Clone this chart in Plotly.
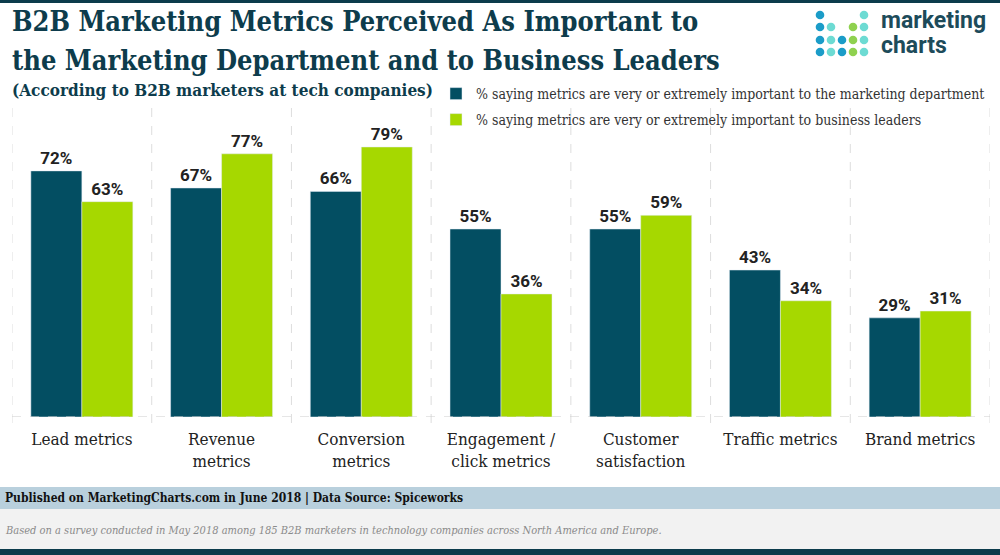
import plotly.graph_objects as go

categories = ["Lead metrics", "Revenue<br>metrics", "Conversion<br>metrics", "Engagement /<br>click metrics",
              "Customer<br>satisfaction", "Traffic metrics", "Brand metrics"]
marketing_dept = [72, 67, 66, 55, 55, 43, 29]
business_leaders = [63, 77, 79, 36, 59, 34, 31]
series_names = ["% saying metrics are very or extremely important to the marketing department",
                "% saying metrics are very or extremely important to business leaders"]

W, H = 1000, 555
L, R, T, B = 12, 10, 108, 138
PW, PH = W - L - R, H - T - B

def px(x):
    return (x - L) / PW

def py(y):
    return (H - B - y) / PH

DARK = "#034e62"
GREEN = "#a6d800"
SERIF = "DejaVu Serif Condensed, DejaVu Serif, serif"

xs = list(range(len(categories)))

fig = go.Figure()
fig.add_trace(go.Bar(x=xs, y=marketing_dept, name=series_names[0], marker_color=DARK,
                     text=[f"{v}%" for v in marketing_dept], textposition="outside",
                     textfont=dict(family="Roboto", size=17, color="#222", weight="bold"),
                     cliponaxis=False, legend="legend"))
fig.add_trace(go.Bar(x=xs, y=business_leaders, name=series_names[1], marker_color=GREEN,
                     text=[f"{v}%" for v in business_leaders], textposition="outside",
                     textfont=dict(family="Roboto", size=17, color="#222", weight="bold"),
                     cliponaxis=False, legend="legend2"))

shapes = []
for i in range(len(categories) + 1):
    shapes.append(dict(type="line", xref="x", yref="paper", x0=i - 0.5, x1=i - 0.5,
                       y0=py(423), y1=1, line=dict(color="#dddddd", width=1, dash="dash")))
shapes.append(dict(type="line", xref="paper", yref="y", x0=0, x1=1, y0=0, y1=0,
                   line=dict(color="#cccccc", width=1, dash="dash")))
shapes.append(dict(type="rect", xref="paper", yref="paper", x0=px(0), x1=px(W), y0=py(0), y1=py(3),
                   fillcolor="#0c3c4c", line_width=0, layer="below"))
shapes.append(dict(type="rect", xref="paper", yref="paper", x0=px(0), x1=px(W), y0=py(487), y1=py(509),
                   fillcolor="#b9d0dd", line_width=0, layer="below"))
shapes.append(dict(type="rect", xref="paper", yref="paper", x0=px(0), x1=px(W), y0=py(509), y1=py(549),
                   fillcolor="#f2f2f2", line_width=0, layer="below"))
shapes.append(dict(type="rect", xref="paper", yref="paper", x0=px(0), x1=px(W), y0=py(549), y1=py(H),
                   fillcolor="#0c3c4c", line_width=0, layer="below"))

cols = [820, 831, 842, 853, 864]
rows = [15, 27, 40, 52]
BLUE, LTEAL, LGREEN = "#1b9cc8", "#6ddbd3", "#8fd14f"
pattern = [
    [BLUE, None, None, None, LTEAL],
    [BLUE, LTEAL, None, LGREEN, LTEAL],
    [BLUE, LTEAL, BLUE, LGREEN, LTEAL],
    [BLUE, LTEAL, BLUE, LGREEN, LTEAL],
]
r = 4.3
for ri, row in enumerate(pattern):
    for ci, c in enumerate(row):
        if c:
            cx, cy = cols[ci], rows[ri]
            shapes.append(dict(type="circle", xref="paper", yref="paper",
                               x0=px(cx - r), x1=px(cx + r), y0=py(cy + r), y1=py(cy - r),
                               fillcolor=c, line_width=0))

annotations = [
    dict(text="B2B Marketing Metrics Perceived As Important to", x=px(10), y=py(22),
         font=dict(family=SERIF, size=27, color="#0d3c4c", weight="bold")),
    dict(text="the Marketing Department and to Business Leaders", x=px(10), y=py(60),
         font=dict(family=SERIF, size=27, color="#0d3c4c", weight="bold")),
    dict(text="(According to B2B marketers at tech companies)", x=px(10), y=py(90),
         font=dict(family=SERIF, size=17, color="#0d3c4c", weight="bold")),
    dict(text="marketing", x=px(879), y=py(20),
         font=dict(family="Roboto", size=23, color="#1d4b5a", weight="bold")),
    dict(text="charts", x=px(879), y=py(46),
         font=dict(family="Roboto", size=23, color="#1d4b5a", weight="bold")),
    dict(text="Published on MarketingCharts.com in June 2018 | Data Source: Spiceworks", x=px(3), y=py(498),
         font=dict(family=SERIF, size=12, color="#111", weight="bold")),
    dict(text="<i>Based on a survey conducted in May 2018 among 185 B2B marketers in technology companies across North America and Europe.</i>",
         x=px(3), y=py(530), font=dict(family=SERIF, size=11, color="#8a8a8a")),
]
for a in annotations:
    a.update(xref="paper", yref="paper", xanchor="left", yanchor="middle", showarrow=False)

fig.update_layout(
    width=W, height=H,
    margin=dict(l=L, r=R, t=T, b=B),
    paper_bgcolor="white", plot_bgcolor="white",
    barmode="group", bargap=0.27, bargroupgap=0,
    xaxis=dict(tickmode="array", tickvals=xs, ticktext=categories, range=[-0.5, len(categories) - 0.5],
               showgrid=False, zeroline=False, showline=False, ticks="", ticklabelstandoff=10,
               tickfont=dict(family=SERIF, size=17, color="#222")),
    yaxis=dict(range=[0, 90.4], showgrid=False, zeroline=False, showline=False, showticklabels=False),
    legend=dict(x=px(436), y=py(78), xanchor="left", yanchor="top", bgcolor="rgba(0,0,0,0)",
                font=dict(family=SERIF, size=14, color="#333"), itemwidth=30),
    legend2=dict(x=px(436), y=py(104), xanchor="left", yanchor="top", bgcolor="rgba(0,0,0,0)",
                 font=dict(family=SERIF, size=14, color="#333"), itemwidth=30),
    shapes=shapes, annotations=annotations,
    showlegend=True,
    font=dict(family=SERIF),
)

fig.write_html("out.html", config={"displayModeBar": False},
               post_script="document.body.style.margin='0';document.body.style.overflow='hidden';")
